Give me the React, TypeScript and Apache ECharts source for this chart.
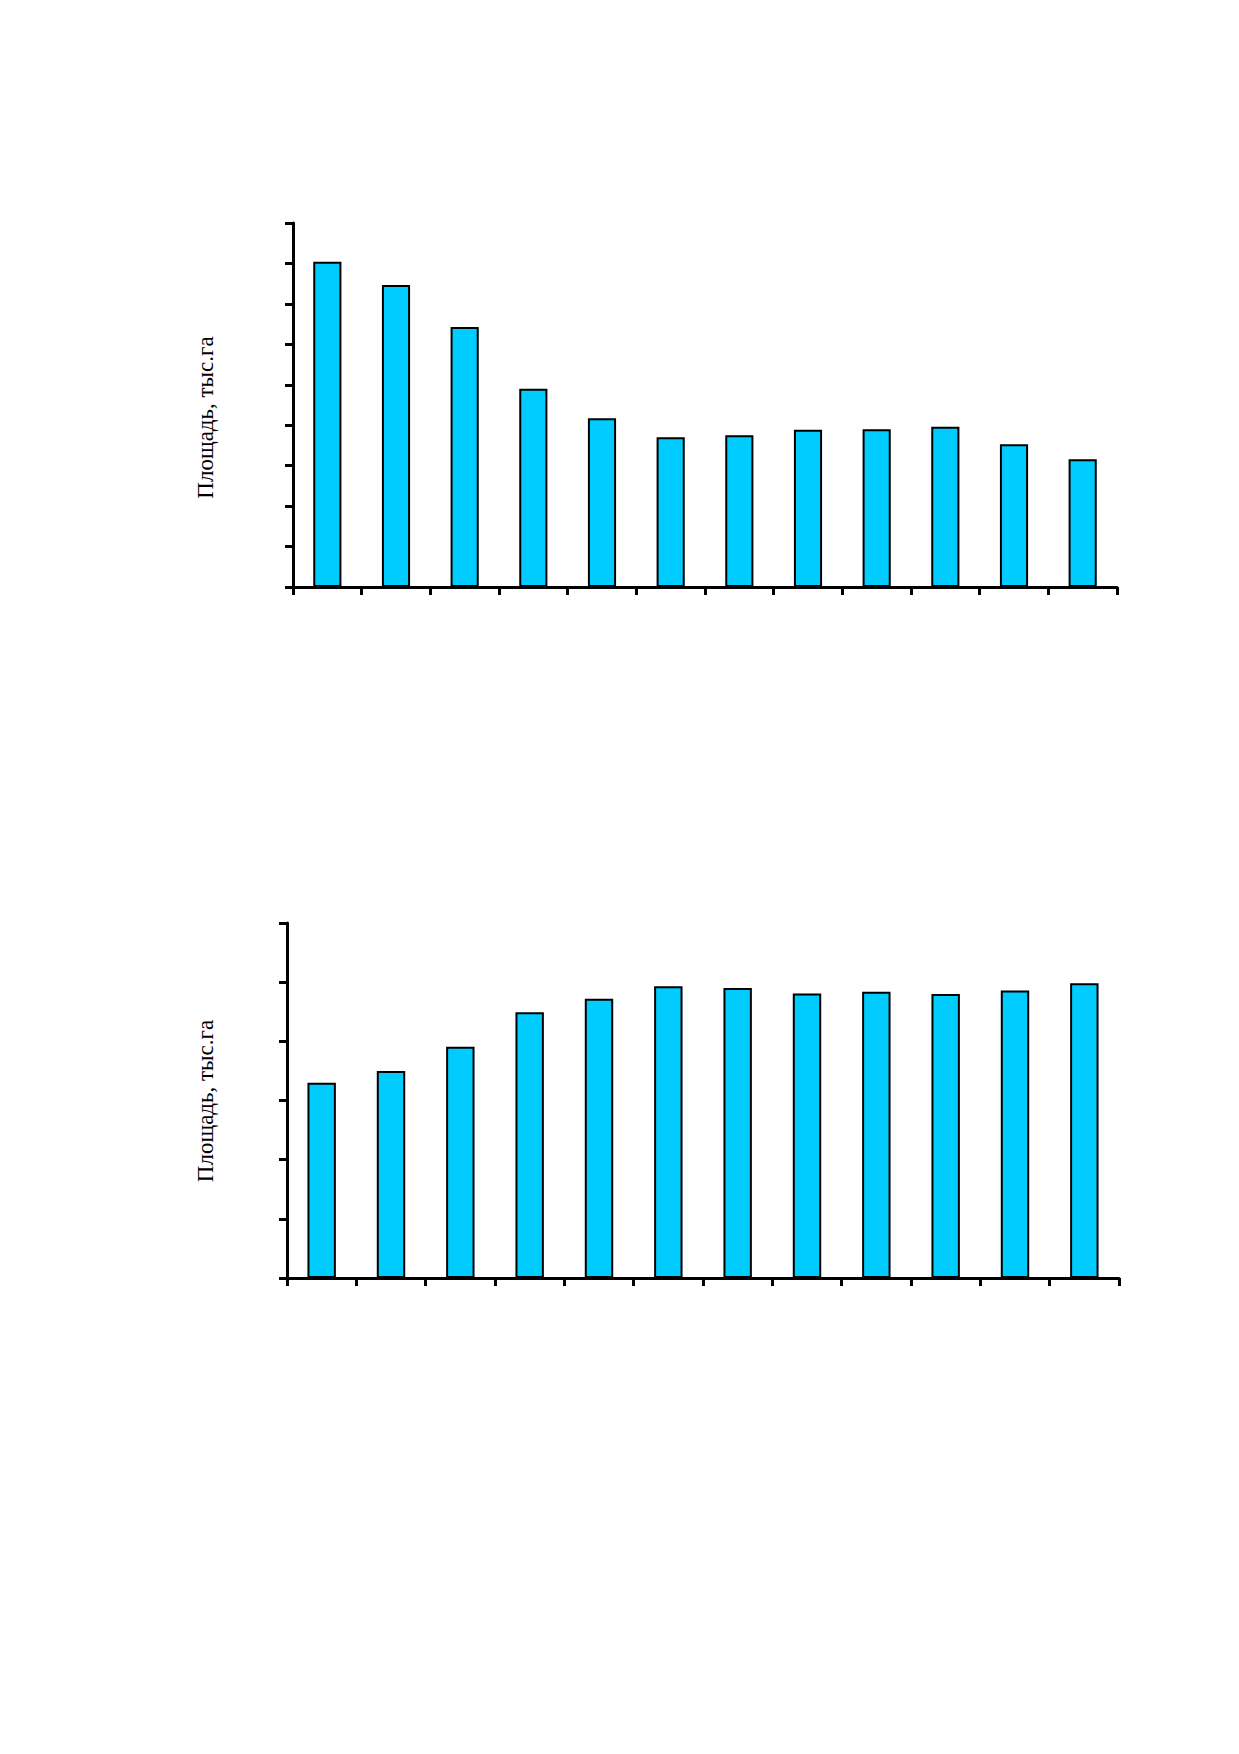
import React, { useEffect, useRef } from "react";
import * as echarts from "echarts";

const categories1 = ["1", "2", "3", "4", "5", "6", "7", "8", "9", "10", "11", "12"];
const values1 = [804, 747, 643, 490, 417, 370, 375, 389, 390, 396, 353, 316];
const categories2 = ["1", "2", "3", "4", "5", "6", "7", "8", "9", "10", "11", "12"];
const values2 = [330, 350, 391, 449, 472, 493, 490, 481, 484, 480, 486, 498];
const yLabel = "Площадь, тыс.га";

const axisLine = { show: true, lineStyle: { color: "#000", width: 3 } };
const axisTick = { show: true, inside: false, length: 8, lineStyle: { color: "#000", width: 3 } };

export default function App() {
  const ref = useRef<HTMLDivElement>(null);
  useEffect(() => {
    document.body.style.margin = "0";
    const chart = echarts.init(ref.current!, null, { renderer: "svg" });
    const barStyle = { color: "#00CCFF", borderColor: "#000", borderWidth: 2 };
    const labelFont = '23px "Liberation Serif", "Times New Roman", serif';
    chart.setOption({
      animation: false,
      backgroundColor: "#fff",
      grid: [
        { left: 293, top: 223, width: 824, height: 364 },
        { left: 287, top: 923, width: 832, height: 355 },
      ],
      xAxis: [
        { type: "category", gridIndex: 0, data: categories1, boundaryGap: true, axisLine, axisTick, axisLabel: { show: false }, splitLine: { show: false } },
        { type: "category", gridIndex: 1, data: categories2, boundaryGap: true, axisLine, axisTick, axisLabel: { show: false }, splitLine: { show: false } },
      ],
      yAxis: [
        { type: "value", gridIndex: 0, min: 0, max: 900, interval: 100, axisLine, axisTick, axisLabel: { show: false }, splitLine: { show: false } },
        { type: "value", gridIndex: 1, min: 0, max: 600, interval: 100, axisLine, axisTick, axisLabel: { show: false }, splitLine: { show: false } },
      ],
      series: [
        { type: "bar", xAxisIndex: 0, yAxisIndex: 0, data: values1, barWidth: "41%", itemStyle: barStyle },
        { type: "bar", xAxisIndex: 1, yAxisIndex: 1, data: values2, barWidth: "41%", itemStyle: barStyle },
      ],
      graphic: [
        {
          type: "text",
          x: 205,
          y: 417.5,
          rotation: Math.PI / 2,
          style: { text: yLabel, font: labelFont, fill: "#000", textAlign: "center", textVerticalAlign: "middle" },
        },
        {
          type: "text",
          x: 205,
          y: 1101,
          rotation: Math.PI / 2,
          style: { text: yLabel, font: labelFont, fill: "#000", textAlign: "center", textVerticalAlign: "middle" },
        },
      ],
    });
    return () => chart.dispose();
  }, []);
  return <div ref={ref} style={{ width: 1239, height: 1754 }} />;
}
